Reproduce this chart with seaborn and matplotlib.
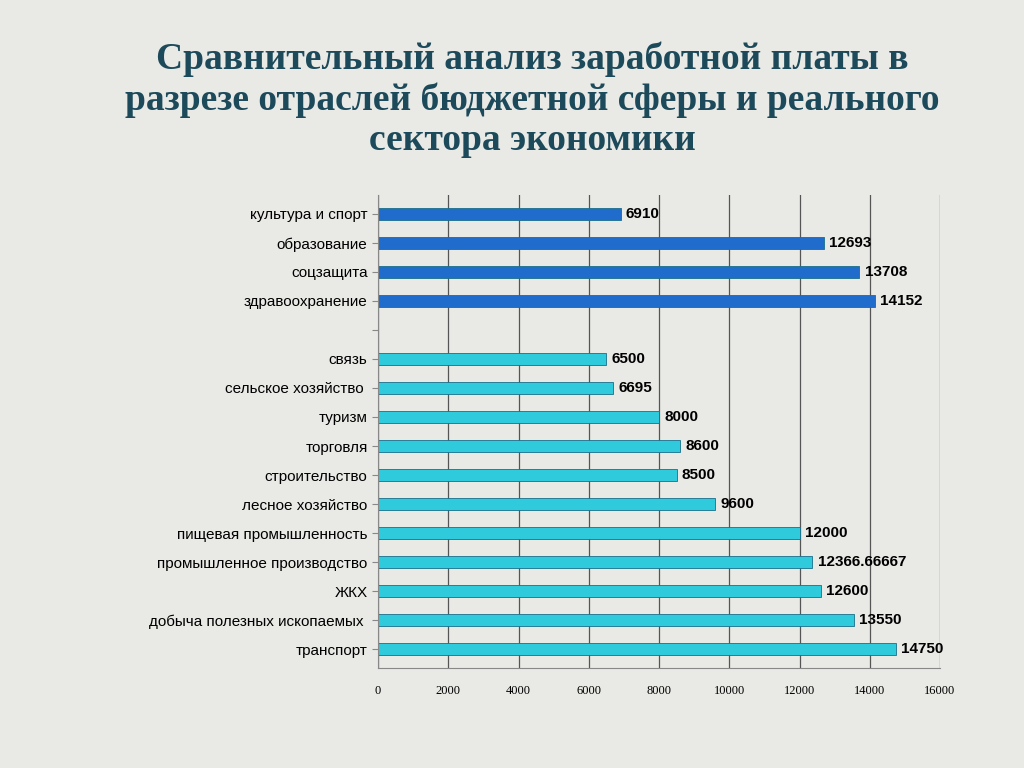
import matplotlib
matplotlib.use("Agg")
import matplotlib.pyplot as plt
import seaborn as sns
import pandas as pd

budget_cats = ["культура и спорт", "образование", "соцзащита", "здравоохранение"]
budget_vals = [6910, 12693, 13708, 14152]
real_cats = ["связь", "сельское хозяйство ", "туризм", "торговля", "строительство",
             "лесное хозяйство", "пищевая промышленность", "промышленное производство",
             "ЖКХ", "добыча полезных ископаемых ", "транспорт"]
real_vals = [6500, 6695, 8000, 8600, 8500, 9600, 12000, 12366.66667, 12600, 13550, 14750]
value_labels_budget = ["6910", "12693", "13708", "14152"]
value_labels_real = ["6500", "6695", "8000", "8600", "8500", "9600", "12000",
                     "12366.66667", "12600", "13550", "14750"]
x_ticks = [0, 2000, 4000, 6000, 8000, 10000, 12000, 14000, 16000]

df = pd.DataFrame({
    "cat": budget_cats + real_cats,
    "val": budget_vals + real_vals,
    "grp": ["b"] * len(budget_cats) + ["r"] * len(real_cats),
})
order = budget_cats + [" "] + real_cats

fig = plt.figure(figsize=(10.24, 7.68), dpi=100)
fig.patch.set_facecolor("#e9e9e6")
ax = fig.add_axes([378/1024, 1-668/768, (940-378)/1024, (668-195)/768])
ax.set_facecolor("#e9e9e6")
sns.barplot(data=df, y="cat", x="val", hue="grp", order=order, orient="h",
            palette={"b": "#1f6ccc", "r": "#2fcadc"}, dodge=False, width=0.42,
            saturation=1, edgecolor="#1a6e8a", linewidth=0.6, legend=False, ax=ax)
ax.set_xlim(0, 16000)
ax.set_ylim(15.65, -0.65)
ax.set_xticks(x_ticks)
ax.set_xticklabels([str(t) for t in x_ticks], fontfamily="Liberation Serif", fontsize=9)
ax.tick_params(axis="x", length=0, pad=12)
ax.tick_params(axis="y", length=4, labelsize=11, color="#888888")
for lbl in ax.get_yticklabels():
    lbl.set_fontfamily("Liberation Sans")
ax.set_xlabel("")
ax.set_ylabel("")
ax.grid(axis="x", color="#555555", linewidth=0.9)
ax.set_axisbelow(True)
for s in ["top", "right"]:
    ax.spines[s].set_visible(False)
ax.spines["left"].set_color("#888888")
ax.spines["bottom"].set_color("#888888")

labels = dict(zip(budget_cats + real_cats, value_labels_budget + value_labels_real))
vals = dict(zip(df["cat"], df["val"]))
for i, c in enumerate(order):
    if c in vals:
        ax.text(vals[c] + 150, i, labels[c], fontsize=11, fontweight="bold",
                fontfamily="Liberation Sans", va="center", ha="left")

fig.text(0.52, 0.87, "Сравнительный анализ заработной платы в\nразрезе отраслей бюджетной сферы и реального\nсектора экономики",
         ha="center", va="center", fontsize=27, fontweight="bold",
         fontfamily="Liberation Serif", color="#1c4a5a", linespacing=1.2)
fig.savefig("out.png", dpi=100, facecolor=fig.get_facecolor())
